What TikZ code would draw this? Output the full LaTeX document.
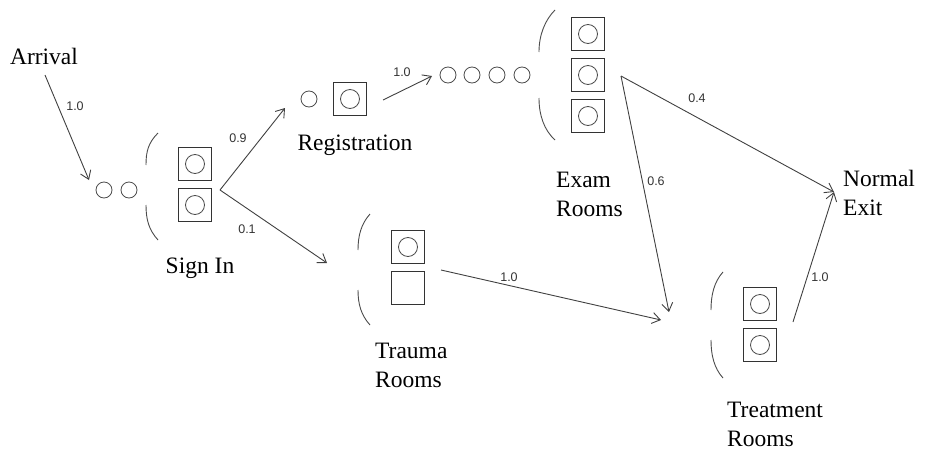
\documentclass[tikz,border=0pt]{standalone}
\usepackage{fontspec}
\usetikzlibrary{arrows.meta}
\setmainfont{Liberation Serif}
\newfontfamily\smallsans{Liberation Sans}
\begin{document}
\begin{tikzpicture}[x=1pt,y=-1pt,
  line/.style={draw=black!75,line width=0.9pt},
  arr/.style={line,-{Straight Barb[length=8pt,width=11pt]}},
  q/.style={circle,draw=black!70,line width=0.8pt,minimum size=16pt,inner sep=0pt},
  srv/.style={rectangle,draw=black!80,line width=0.9pt,minimum size=33pt,inner sep=0pt},
  dot/.style={circle,draw=black!70,line width=0.8pt,minimum size=19pt,inner sep=0pt},
  lbl/.style={font=\fontsize{23.5}{29}\selectfont,inner sep=0pt},
  lblL/.style={lbl,anchor=west,align=left},
  num/.style={font=\smallsans\fontsize{12.5}{14}\selectfont,text=black!80,inner sep=0pt},
  par/.style={draw=black!70,line width=0.9pt}]
\useasboundingbox (0,0) rectangle (930,458);
% Arrival
\node[lbl] (arr) at (44,56) {Arrival};
\coordinate (a0) at (45,75);
\node[q] (q1) at (104,190) {};
\node[q] (q2) at (129,190) {};
\coordinate (a1) at (89,180);
\draw[arr] (a0) -- (a1);
\node[num] (n1) at (75,106) {1.0};
% Sign in
\draw[par] (158,133) .. controls (148,143) and (146,152) .. (146,165);
\draw[par] (146,205) .. controls (146,220) and (149,230) .. (158,240);
\node[srv] (s1) at (195,164) {}; \node[dot] at (s1) {};
\node[srv] (s2) at (195,205) {}; \node[dot] at (s2) {};
\node[lbl] (sl) at (200,268) {Sign In};
\coordinate (sOut) at (220,190);
% Registration
\node[q] (rq) at (309,99) {};
\node[srv] (r1) at (350,99) {}; \node[dot] at (r1) {};
\node[lbl] (rl) at (355,145) {Registration};
\coordinate (rIn) at (285,108);
\draw[arr] (sOut) -- (rIn);
\node[num] at (238,138) {0.9};
% Trauma
\draw[par] (370,214) .. controls (361,224) and (358,236) .. (358,250);
\draw[par] (358,290) .. controls (358,304) and (361,315) .. (370,325);
\node[srv] (t1) at (408,247) {}; \node[dot] at (t1) {};
\node[srv] (t2) at (408,288) {};
\node[lblL] (tl) at (375,365) {Trauma\\Rooms};
\coordinate (tIn) at (327,263);
\draw[arr] (sOut) -- (tIn);
\node[num] at (247,229) {0.1};
% Exam
\coordinate (rOut) at (383,100);
\coordinate (eIn) at (432,76);
\draw[arr] (rOut) -- (eIn);
\node[num] at (402,72) {1.0};
\foreach \i/\x in {1/448,2/472,3/497,4/522}{\node[q] (eq\i) at (\x,75) {};}
\draw[par] (555,10) .. controls (545,20) and (539,35) .. (539,52);
\draw[par] (539,98) .. controls (539,115) and (544,130) .. (555,140);
\node[srv] (e1) at (588,34) {}; \node[dot] at (e1) {};
\node[srv] (e2) at (588,75) {}; \node[dot] at (e2) {};
\node[srv] (e3) at (588,116) {}; \node[dot] at (e3) {};
\node[lblL] (el) at (556,194) {Exam\\Rooms};
\coordinate (eOut) at (621,76);
% Treatment
\draw[par] (723,272) .. controls (714,282) and (711,295) .. (711,310);
\draw[par] (711,340) .. controls (711,355) and (714,368) .. (723,378);
\node[srv] (tr1) at (760,304) {}; \node[dot] at (tr1) {};
\node[srv] (tr2) at (760,345) {}; \node[dot] at (tr2) {};
\node[lblL] (trl) at (727,424) {Treatment\\Rooms};
\coordinate (trIn1) at (669,312);
\coordinate (trIn2) at (661,320);
\coordinate (tOut) at (441,270);
\draw[arr] (tOut) -- (trIn2);
\node[num] at (509,277) {1.0};
\draw[arr] (eOut) -- (trIn1);
\node[num] at (656,181) {0.6};
% Exit
\node[lblL] (ex) at (843,193) {Normal\\Exit};
\coordinate (exIn) at (834,192);
\coordinate (trOut) at (793,322);
\draw[arr] (eOut) -- (exIn);
\node[num] at (697,98) {0.4};
\draw[arr] (trOut) -- (exIn);
\node[num] at (820,277) {1.0};
\end{tikzpicture}
\end{document}
